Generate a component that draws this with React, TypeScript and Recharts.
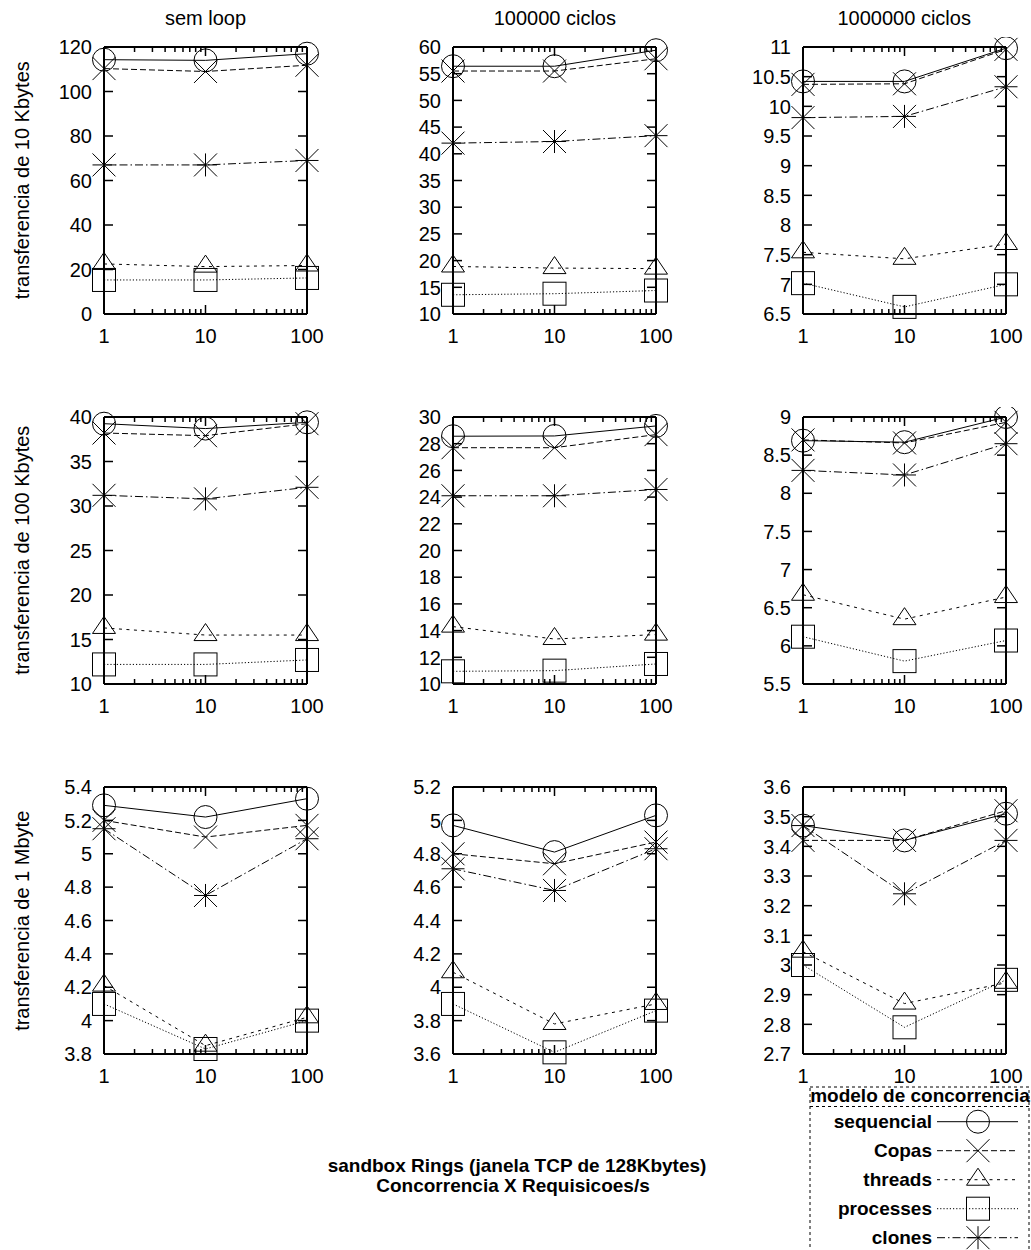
import { Line, LineChart, XAxis, YAxis } from "recharts";

// x axis: requests per second (log scale)
const requests = [1, 10, 100];
const minorRequests = [2, 3, 4, 5, 6, 7, 8, 9, 20, 30, 40, 50, 60, 70, 80, 90];

const columnTitles = ["sem loop", "100000 ciclos", "1000000 ciclos"];
const rowLabels = [
  "transferencia de 10 Kbytes",
  "transferencia de 100 Kbytes",
  "transferencia de 1 Mbyte",
];

// one entry per panel, row by row
const yDomains = [
  [0, 120], [10, 60], [6.5, 11],
  [10, 40], [10, 30], [5.5, 9],
  [3.8, 5.4], [3.6, 5.2], [2.7, 3.6],
];
const yTicks = [
  [0, 20, 40, 60, 80, 100, 120],
  [10, 15, 20, 25, 30, 35, 40, 45, 50, 55, 60],
  [6.5, 7, 7.5, 8, 8.5, 9, 9.5, 10, 10.5, 11],
  [10, 15, 20, 25, 30, 35, 40],
  [10, 12, 14, 16, 18, 20, 22, 24, 26, 28, 30],
  [5.5, 6, 6.5, 7, 7.5, 8, 8.5, 9],
  [3.8, 4, 4.2, 4.4, 4.6, 4.8, 5, 5.2, 5.4],
  [3.6, 3.8, 4, 4.2, 4.4, 4.6, 4.8, 5, 5.2],
  [2.7, 2.8, 2.9, 3, 3.1, 3.2, 3.3, 3.4, 3.5, 3.6],
];

// values at 1, 10, 100 for each panel
const sequencial = [
  [114.3, 114, 117], [56.4, 56.4, 59.4], [10.42, 10.42, 10.98],
  [39.25, 38.7, 39.4], [28.56, 28.58, 29.33], [8.69, 8.67, 9.0],
  [5.29, 5.22, 5.33], [4.97, 4.81, 5.03], [3.47, 3.42, 3.51],
];
const copas = [
  [110.3, 109, 111.8], [55.5, 55.5, 57.8], [10.37, 10.38, 10.96],
  [38.2, 37.9, 39.25], [27.7, 27.7, 28.68], [8.7, 8.66, 8.93],
  [5.2, 5.1, 5.17], [4.8, 4.74, 4.87], [3.42, 3.42, 3.52],
];
const threads = [
  [22.5, 21.3, 21.8], [18.9, 18.6, 18.5], [7.54, 7.43, 7.68],
  [16.3, 15.5, 15.5], [14.3, 13.37, 13.7], [6.67, 6.35, 6.64],
  [4.21, 3.85, 4.02], [4.09, 3.78, 3.9], [3.045, 2.87, 2.94],
];
const processes = [
  [15.3, 15.3, 16.2], [13.6, 13.8, 14.4], [7.02, 6.62, 7.0],
  [12.2, 12.2, 12.7], [10.95, 11.0, 11.5], [6.12, 5.8, 6.07],
  [4.1, 3.83, 4.0], [3.9, 3.61, 3.86], [3.0, 2.79, 2.95],
];
const clones = [
  [67, 67, 69], [42, 42.3, 43.4], [9.81, 9.83, 10.33],
  [31.2, 30.8, 32.1], [24.1, 24.1, 24.57], [8.3, 8.24, 8.65],
  [5.15, 4.75, 5.09], [4.71, 4.58, 4.83], [3.47, 3.24, 3.42],
];

const models = [
  { key: "sequencial", values: sequencial, marker: "circle", dash: undefined },
  { key: "Copas", values: copas, marker: "cross", dash: "6 3" },
  { key: "threads", values: threads, marker: "triangle", dash: "3 4.5" },
  { key: "processes", values: processes, marker: "square", dash: "1.2 2" },
  { key: "clones", values: clones, marker: "star", dash: "8 3 1.5 3" },
];

const FONT = "'Liberation Sans', Arial, Helvetica, sans-serif";
const PLOT_W = 203;
const PLOT_H = 267;
const plotLefts = [104, 453.3, 802.7];
const plotTops = [46.7, 416.7, 787.3];
const LEFT_SPACE = 100;
const RIGHT_SPACE = 30;
const TOP_SPACE = 10;
const BOTTOM_SPACE = 40;
const TICK_FONT = 20;

const fmt = (v: number) => String(Number(v.toFixed(3)));

function Marker({ kind, cx, cy, s = 11.5 }: { kind: string; cx: number; cy: number; s?: number }) {
  const st = { fill: "none", stroke: "#000", strokeWidth: 1 };
  if (kind === "circle") return <circle cx={cx} cy={cy} r={s} {...st} />;
  if (kind === "square") return <rect x={cx - s} y={cy - s} width={2 * s} height={2 * s} {...st} />;
  if (kind === "triangle")
    return <path d={`M${cx},${cy - s}L${cx + s},${cy + s * 0.48}L${cx - s},${cy + s * 0.48}Z`} {...st} />;
  if (kind === "cross")
    return <path d={`M${cx - s},${cy - s}L${cx + s},${cy + s}M${cx - s},${cy + s}L${cx + s},${cy - s}`} {...st} />;
  return (
    <path
      d={`M${cx - s},${cy - s}L${cx + s},${cy + s}M${cx - s},${cy + s}L${cx + s},${cy - s}M${cx - s},${cy}L${cx + s},${cy}M${cx},${cy - s}L${cx},${cy + s}`}
      {...st}
    />
  );
}

const isMajor = (v: number) => requests.includes(v);

function BottomTick(props: any) {
  const { x, y, payload } = props;
  const len = isMajor(payload.value) ? 9 : 5;
  return (
    <g>
      <line x1={x} x2={x} y1={y} y2={y - len} stroke="#000" strokeWidth={1.5} />
      {isMajor(payload.value) && (
        <text x={x} y={y + 29} textAnchor="middle" fontSize={TICK_FONT} fontFamily={FONT} fill="#000">
          {payload.value}
        </text>
      )}
    </g>
  );
}

function TopTick(props: any) {
  const { x, y, payload } = props;
  const len = isMajor(payload.value) ? 9 : 5;
  return <line x1={x} x2={x} y1={y} y2={y + len} stroke="#000" strokeWidth={1.5} />;
}

function LeftTick(props: any) {
  const { x, y, payload } = props;
  return (
    <g>
      <line x1={x} x2={x + 9} y1={y} y2={y} stroke="#000" strokeWidth={1.5} />
      <text x={x - 12} y={y} dy="0.36em" textAnchor="end" fontSize={TICK_FONT} fontFamily={FONT} fill="#000">
        {fmt(payload.value)}
      </text>
    </g>
  );
}

function RightTick(props: any) {
  const { x, y } = props;
  return <line x1={x} x2={x - 9} y1={y} y2={y} stroke="#000" strokeWidth={1.5} />;
}

function Panel({ index }: { index: number }) {
  const row = Math.floor(index / 3);
  const col = index % 3;
  const data = requests.map((r, i) => {
    const point: Record<string, number> = { r };
    models.forEach((m) => (point[m.key] = m.values[index][i]));
    return point;
  });
  const domain = yDomains[index];
  const axisLine = { stroke: "#000", strokeWidth: 2 };
  const xTicks = [...requests, ...minorRequests].sort((a, b) => a - b);

  return (
    <div
      style={{
        position: "absolute",
        left: plotLefts[col] - LEFT_SPACE,
        top: plotTops[row] - TOP_SPACE,
      }}
    >
      <LineChart
        width={LEFT_SPACE + PLOT_W + RIGHT_SPACE}
        height={TOP_SPACE + PLOT_H + BOTTOM_SPACE}
        data={data}
        margin={{ top: TOP_SPACE - 1, right: RIGHT_SPACE - 1, left: 0, bottom: 0 }}
      >
        <XAxis
          xAxisId="main"
          dataKey="r"
          type="number"
          scale="log"
          domain={[1, 100]}
          ticks={xTicks}
          interval={0}
          height={BOTTOM_SPACE}
          tickSize={0}
          tickMargin={0}
          tickLine={false}
          axisLine={axisLine}
          tick={BottomTick}
        />
        {/* mirrored axes need a non-zero size or recharts skips drawing them */}
        <XAxis
          xAxisId="top"
          dataKey="r"
          orientation="top"
          type="number"
          scale="log"
          domain={[1, 100]}
          ticks={xTicks}
          interval={0}
          height={1}
          tickSize={0}
          tickMargin={0}
          tickLine={false}
          axisLine={axisLine}
          tick={TopTick}
        />
        <YAxis
          yAxisId="left"
          type="number"
          domain={domain}
          ticks={yTicks[index]}
          interval={0}
          width={LEFT_SPACE}
          tickSize={0}
          tickMargin={0}
          tickLine={false}
          axisLine={axisLine}
          tick={LeftTick}
        />
        <YAxis
          yAxisId="right"
          orientation="right"
          type="number"
          domain={domain}
          ticks={yTicks[index]}
          interval={0}
          width={1}
          tickSize={0}
          tickMargin={0}
          tickLine={false}
          axisLine={axisLine}
          tick={RightTick}
        />
        <Line
          xAxisId="top"
          yAxisId="right"
          dataKey="sequencial"
          stroke="none"
          dot={false}
          activeDot={false}
          legendType="none"
          isAnimationActive={false}
        />
        {models.map((m) => (
          <Line
            key={m.key}
            xAxisId="main"
            yAxisId="left"
            dataKey={m.key}
            stroke="#000"
            strokeWidth={1}
            strokeDasharray={m.dash}
            activeDot={false}
            isAnimationActive={false}
            dot={(p: any) => <Marker key={`${m.key}-${p.index}`} kind={m.marker} cx={p.cx} cy={p.cy} />}
          />
        ))}
      </LineChart>
    </div>
  );
}

function Overlay() {
  const legendX = 810;
  const legendTop = 1087;
  const rowY0 = 1121.7;
  const rowGap = 29;
  return (
    <svg
      width={1031}
      height={1250}
      style={{ position: "absolute", left: 0, top: 0, pointerEvents: "none" }}
      fontFamily={FONT}
    >
      {columnTitles.map((t, c) => (
        <text key={t} x={plotLefts[c] + PLOT_W / 2} y={25} textAnchor="middle" fontSize={20}>
          {t}
        </text>
      ))}
      {rowLabels.map((t, r) => {
        const cy = plotTops[r] + PLOT_H / 2;
        return (
          <text key={t} x={29} y={cy} transform={`rotate(-90 29 ${cy})`} textAnchor="middle" fontSize={20}>
            {t}
          </text>
        );
      })}
      <text x={517} y={1172} textAnchor="middle" fontSize={19} fontWeight="bold">
        sandbox Rings (janela TCP de 128Kbytes)
      </text>
      <text x={513} y={1192} textAnchor="middle" fontSize={19} fontWeight="bold">
        Concorrencia X Requisicoes/s
      </text>

      <rect x={legendX} y={legendTop} width={219} height={200} fill="none" stroke="#000" strokeWidth={1} strokeDasharray="3 3" />
      <line x1={legendX} x2={legendX + 219} y1={1106.5} y2={1106.5} stroke="#000" strokeWidth={1} strokeDasharray="3 3" />
      <text x={920} y={1102} textAnchor="middle" fontSize={19} fontWeight="bold">
        modelo de concorrencia
      </text>
      {models.map((m, i) => {
        const y = rowY0 + i * rowGap;
        return (
          <g key={m.key}>
            <text x={932} y={y + 6.5} textAnchor="end" fontSize={19} fontWeight="bold">
              {m.key}
            </text>
            <line x1={937} x2={1018} y1={y} y2={y} stroke="#000" strokeWidth={1} strokeDasharray={m.dash} />
            <Marker kind={m.marker} cx={978} cy={y} />
          </g>
        );
      })}
    </svg>
  );
}

export default function App() {
  return (
    <div style={{ position: "absolute", left: 0, top: 0, width: 1031, height: 1250, background: "#fff", fontFamily: FONT }}>
      {Array.from({ length: 9 }, (_, i) => (
        <Panel key={i} index={i} />
      ))}
      <Overlay />
    </div>
  );
}
